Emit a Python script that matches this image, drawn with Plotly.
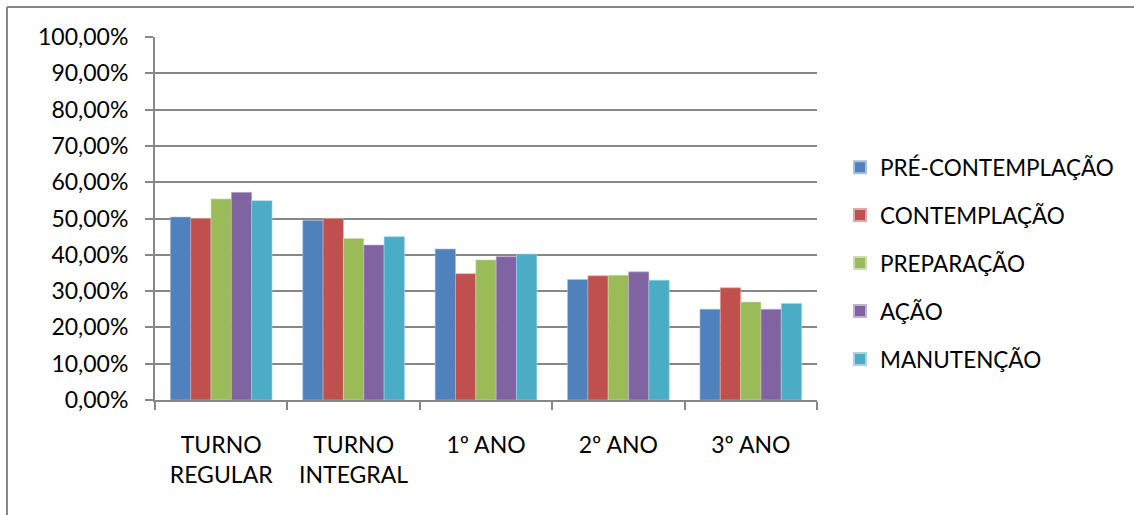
import plotly.graph_objects as go

categories = ["TURNO<br>REGULAR", "TURNO<br>INTEGRAL", "1º ANO", "2º ANO", "3º ANO"]
series_names = ["PRÉ-CONTEMPLAÇÃO", "CONTEMPLAÇÃO", "PREPARAÇÃO", "AÇÃO", "MANUTENÇÃO"]
pre_contemplacao = [0.504, 0.495, 0.416, 0.332, 0.250]
contemplacao = [0.500, 0.500, 0.348, 0.342, 0.309]
preparacao = [0.554, 0.445, 0.386, 0.344, 0.270]
acao = [0.572, 0.427, 0.395, 0.353, 0.250]
manutencao = [0.549, 0.450, 0.402, 0.330, 0.266]
y_ticks = [0.0, 0.1, 0.2, 0.3, 0.4, 0.5, 0.6, 0.7, 0.8, 0.9, 1.0]
y_tick_labels = ["0,00%", "10,00%", "20,00%", "30,00%", "40,00%", "50,00%",
                 "60,00%", "70,00%", "80,00%", "90,00%", "100,00%"]

series_values = [pre_contemplacao, contemplacao, preparacao, acao, manutencao]
colors = ["#4F81BD", "#C0504D", "#9BBB59", "#8064A2", "#4BACC6"]
edge_colors = ["#A7C0DE", "#DFA8A6", "#CDDDAC", "#BFB1D0", "#A5D5E2"]

FONT = "Lato, 'Open Sans', sans-serif"
GRAY = "#878787"

fig = go.Figure()
for name, vals, col, edge in zip(series_names, series_values, colors, edge_colors):
    fig.add_trace(go.Bar(
        x=categories, y=vals, name=name, legendgroup=name,
        marker=dict(color=col, line=dict(color=edge, width=0.6)),
    ))

W, H = 1134, 515
L, R, T, B = 155, 817, 37, 400

fig.update_layout(
    width=W, height=H,
    margin=dict(l=L, r=W - R, t=T, b=H - B, autoexpand=False),
    paper_bgcolor="white", plot_bgcolor="white",
    barmode="group", bargap=0.232, bargroupgap=0,
    font=dict(family=FONT, size=23, color="#000000"),
    showlegend=True,
    legend=dict(
        x=(840 - L) / (R - L), xanchor="left",
        y=(400 - 146) / (B - T), yanchor="top",
        font=dict(family=FONT, size=22.5, color="#000000"),
        traceorder="grouped", tracegroupgap=15.7,
        itemsizing="constant", bgcolor="rgba(0,0,0,0)",
    ),
    xaxis=dict(
        showline=True, linecolor=GRAY, linewidth=2,
        ticks="outside", tickson="boundaries", ticklen=8, tickcolor=GRAY, tickwidth=2,
        tickfont=dict(family=FONT, size=23), showgrid=False,
        ticklabelstandoff=23,
        range=[-0.5, 4.5],
    ),
    yaxis=dict(
        range=[0, 1], tickvals=y_ticks, ticktext=y_tick_labels,
        showline=True, linecolor=GRAY, linewidth=2,
        ticks="outside", ticklen=8, tickcolor=GRAY, tickwidth=2,
        showgrid=True, gridcolor=GRAY, gridwidth=2,
        tickfont=dict(family=FONT, size=23), zeroline=False,
        ticklabelstandoff=12,
    ),
)

# outer chart frame (top and left edges visible)
px = lambda v: (v - L) / (R - L)
py = lambda v: (B - v) / (B - T)
fig.add_shape(type="line", xref="paper", yref="paper",
              x0=px(7), x1=px(W + 5), y0=py(7), y1=py(7),
              line=dict(color=GRAY, width=2))
fig.add_shape(type="line", xref="paper", yref="paper",
              x0=px(7), x1=px(7), y0=py(7), y1=py(H + 5),
              line=dict(color=GRAY, width=2))

fig.write_html("out.html")
